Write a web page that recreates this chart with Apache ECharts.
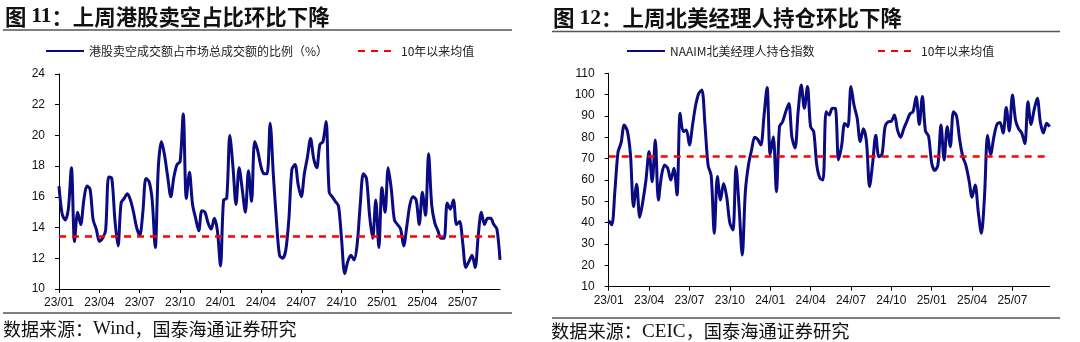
<!DOCTYPE html>
<html>
<head>
<meta charset="utf-8">
<script src="https://cdn.jsdelivr.net/npm/echarts@6/dist/echarts.min.js"></script>
<style>
  html, body { margin: 0; padding: 0; background: #fff; }
  #wrap { position: relative; width: 1080px; height: 342px; }
  #c1 { position: absolute; left: 0; top: 0; width: 540px; height: 342px; }
  #c2 { position: absolute; left: 540px; top: 0; width: 540px; height: 342px; }
</style>
</head>
<body>
<div id="wrap"><div id="c1"></div><div id="c2"></div></div>
<script>
// ---------------- data ----------------
const startDate = '2023-01-06';   // first weekly observation
const quarterStep = 13;           // weeks between quarterly tick labels

// 港股卖空成交额占市场总成交额的比例（%）, weekly
const hkShortRatio = [
  16.7, 14.9, 14.5, 15.2, 17.9, 13.1, 15.0, 14.2, 15.8, 16.7,
  16.5, 14.5, 13.9, 13.1, 13.3, 13.8, 17.3, 17.2, 14.5, 12.8,
  15.6, 15.9, 16.2, 15.8, 15.0, 14.0, 13.5, 15.0, 17.2, 17.0,
  15.8, 12.7, 18.0, 19.6, 18.7, 17.3, 16.0, 17.3, 18.1, 18.3,
  21.4, 15.9, 17.6, 15.5, 14.6, 13.8, 15.1, 15.0, 14.3, 13.9,
  14.6, 13.8, 11.5, 15.8, 15.9, 20.0, 18.0, 15.5, 17.9, 16.5,
  15.0, 17.7, 15.7, 19.6, 19.0, 18.0, 17.5, 17.5, 20.8, 17.5,
  14.5, 12.2, 12.0, 12.5, 14.5, 17.8, 18.1, 16.8, 16.0, 17.5,
  18.6, 19.8, 18.5, 17.9, 19.4, 19.6, 20.9, 16.3, 16.0, 15.7,
  15.4, 13.2, 11.0, 11.8, 12.2, 11.9, 12.9, 15.5, 17.5, 17.2,
  14.8, 13.3, 15.8, 12.7, 16.6, 15.0, 17.9, 16.5, 14.5, 14.2,
  13.9, 12.8, 14.1, 15.5, 16.0, 15.8, 14.2, 16.3, 14.8, 18.8,
  15.5, 14.3, 13.8, 13.3, 13.3, 15.6, 15.2, 15.8, 14.2, 14.4,
  13.0, 11.4, 11.8, 12.2, 11.4, 13.5, 15.0, 14.2, 14.6, 14.6,
  14.2, 13.9, 11.9
];
const hkShortMean = 13.43;

// NAAIM北美经理人持仓指数, weekly
const naaimIndex = [
  41, 39, 55, 73, 77.5, 85.8, 83, 72, 47.5, 58,
  42.5, 50, 60, 73.3, 59.2, 78.8, 50.6, 62, 67, 65.5,
  60, 65.5, 53, 91.3, 82.7, 83.4, 76.4, 85.8, 95, 100.6,
  102.2, 85.8, 67, 62, 35, 61.6, 50.6, 58.4, 52, 40,
  36.6, 66.3, 47, 24.8, 54.5, 67, 74, 80, 79, 76.4,
  90, 103.3, 72, 80.3, 54.5, 85, 87.3, 92, 95.9, 80,
  75, 92, 104.5, 93.6, 103.8, 85, 82.7, 67, 60.8, 60,
  92, 90.5, 93.6, 93.5, 69.4, 76, 86.5, 85, 103.8, 95,
  89, 78, 84, 78, 56.9, 68, 81, 70.9, 72, 85,
  87.3, 87.5, 90.5, 83.4, 80, 84, 87.5, 91, 92, 99,
  86, 99.1, 83, 80.5, 68, 64.5, 67, 85.8, 69.4, 85,
  75.6, 92, 90, 79, 71, 67, 60, 52, 57.7, 45,
  35, 52, 81, 72, 80, 86, 87, 82, 94, 83,
  99.8, 88, 84, 82, 77, 96.7, 86, 93, 98.3, 87,
  82, 86.6, 85
];
const naaimMean = 70.9;

const meanName = '10年以来均值';

// weekly date categories
function weeklyDates(n) {
  const out = [];
  const d0 = new Date(startDate + 'T00:00:00Z');
  for (let i = 0; i < n; i++) {
    const d = new Date(d0.getTime() + i * 7 * 86400000);
    out.push(d.toISOString().slice(0, 10));
  }
  return out;
}
const categories = weeklyDates(hkShortRatio.length);

// ---------------- styling ----------------
const NAVY = '#0a0a82';
const RED = '#ff0000';
const CJK = '"Noto Sans CJK SC", sans-serif';
const SANS = '"Liberation Sans", Arial, sans-serif';
const SERIF = '"Liberation Serif", "Times New Roman", serif';

function tickLabel(v) { return v.slice(2, 4) + '/' + v.slice(5, 7); }
function isQuarter(i) { return i % quarterStep === 0; }

function legendBox(left, name) {
  return {
    left: left, top: 45, padding: 0, data: [name],
    itemWidth: 38, itemHeight: 14, itemGap: 0,
    itemStyle: { opacity: 0 },
    textStyle: { fontFamily: CJK, fontSize: 12, color: '#222' }
  };
}

function buildOption(cfg) {
  return {
    animation: false,
    title: [
      {
        text: cfg.title, padding: 0,
        left: cfg.titleLeft, top: cfg.titleTop,
        textStyle: {
          fontFamily: CJK, fontWeight: 'bold', fontSize: cfg.titleSize, color: '#111',
          rich: { n: { fontFamily: SERIF, fontWeight: 'bold', fontSize: cfg.titleSize, color: '#111' } }
        }
      },
      {
        text: cfg.footer, padding: 0,
        left: cfg.titleLeft - 2, top: cfg.footerTop,
        textStyle: {
          fontFamily: CJK, fontWeight: 'normal', fontSize: cfg.footerSize, color: '#111',
          rich: { w: { fontFamily: SERIF, fontSize: cfg.footerSize + 1, color: '#111' } }
        }
      }
    ],
    legend: [ legendBox(cfg.leg1, cfg.seriesName), legendBox(cfg.leg2, meanName) ],
    graphic: [
      { type: 'line', shape: { x1: cfg.lineX1, y1: cfg.divTop, x2: cfg.lineX2, y2: cfg.divTop },
        style: { stroke: '#555', lineWidth: 1.5 } },
      { type: 'line', shape: { x1: cfg.lineX1, y1: cfg.divBottom, x2: cfg.lineX2, y2: cfg.divBottom },
        style: { stroke: '#555', lineWidth: 1.5 } }
    ],
    grid: { left: cfg.gridLeft, top: cfg.gridTop, width: 441, height: cfg.gridHeight },
    xAxis: {
      type: 'category',
      data: categories,
      boundaryGap: false,
      axisLine: { lineStyle: { color: '#000', width: 1 } },
      axisTick: { show: true, length: 4, interval: isQuarter, lineStyle: { color: '#000' } },
      axisLabel: { interval: isQuarter, formatter: tickLabel, margin: 8,
        fontFamily: SANS, fontSize: 12, color: '#111' },
      splitLine: { show: false }
    },
    yAxis: {
      type: 'value',
      min: cfg.yMin, max: cfg.yMax, interval: cfg.yStep,
      axisLine: { show: true, lineStyle: { color: '#000', width: 1 } },
      axisTick: { show: true, length: 4, lineStyle: { color: '#000' } },
      axisLabel: { margin: 14, fontFamily: SANS, fontSize: 12, color: '#111' },
      splitLine: { show: false }
    },
    series: [
      {
        name: cfg.seriesName, type: 'line', data: cfg.values,
        symbol: 'none', smooth: 0.3,
        lineStyle: { color: NAVY, width: 3 }, itemStyle: { color: NAVY }, z: 3
      },
      {
        name: meanName, type: 'line', data: [],
        symbol: 'none',
        lineStyle: { color: RED, width: 2.5, type: [7, 6] }, itemStyle: { color: RED },
        markLine: {
          silent: true, symbol: 'none', label: { show: false },
          lineStyle: { color: RED, width: 2.5, type: [7, 6] },
          data: [{ yAxis: cfg.mean }]
        },
        z: 4
      }
    ]
  };
}

const c1 = echarts.init(document.getElementById('c1'), null, { renderer: 'canvas' });
c1.setOption(buildOption({
  title: '图 {n|11}：上周港股卖空占比环比下降', titleLeft: 5, titleTop: 6, titleSize: 21.4,
  footer: '数据来源：{w|Wind}，国泰海通证券研究', footerTop: 320, footerSize: 18,
  seriesName: '港股卖空成交额占市场总成交额的比例（%）', leg1: 45, leg2: 357,
  lineX1: 3, lineX2: 512, divTop: 30, divBottom: 313,
  gridLeft: 59, gridTop: 74, gridHeight: 215,
  yMin: 10, yMax: 24, yStep: 2, values: hkShortRatio, mean: hkShortMean
}));

const c2 = echarts.init(document.getElementById('c2'), null, { renderer: 'canvas' });
c2.setOption(buildOption({
  title: '图 {n|12}：上周北美经理人持仓环比下降', titleLeft: 13, titleTop: 7, titleSize: 21.5,
  footer: '数据来源：{w|CEIC}，国泰海通证券研究', footerTop: 322, footerSize: 18.2,
  seriesName: 'NAAIM北美经理人持仓指数', leg1: 86, leg2: 337,
  lineX1: 12, lineX2: 520, divTop: 31.5, divBottom: 318,
  gridLeft: 68.7, gridTop: 73.3, gridHeight: 213.4,
  yMin: 10, yMax: 110, yStep: 10, values: naaimIndex, mean: naaimMean
}));
</script>
</body>
</html>
